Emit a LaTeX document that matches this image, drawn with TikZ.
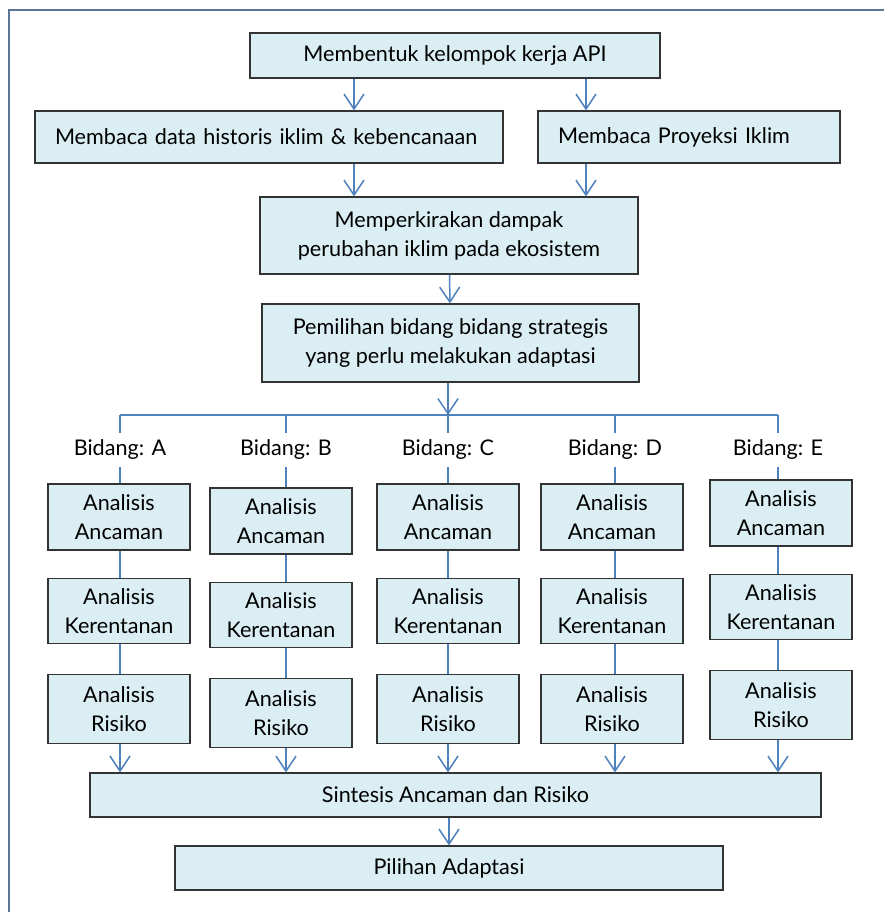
\documentclass[tikz,border=0pt]{standalone}
\usepackage{fontspec}
\setmainfont{Lato}
\usetikzlibrary{arrows.meta}

\definecolor{boxfill}{HTML}{DAEEF3}
\definecolor{linkblue}{HTML}{4F81BD}
\definecolor{framegray}{HTML}{5B7597}

\tikzset{
  boxfont/.style={font=\fontsize{21.6}{29}\selectfont},
  stepbox/.style={draw=black!80, line width=1.2pt, fill=boxfill, inner sep=0pt,
    align=center, boxfont},
  leftbox/.style={stepbox, align=left, inner xsep=20pt},
  link/.style={draw=linkblue, line width=1.5pt},
  arr/.style={link, -{Straight Barb[length=15pt,width=20pt,line width=1.5pt]}}
}

\begin{document}
\begin{tikzpicture}[x=1pt,y=-1pt]
\useasboundingbox (0,0) rectangle (884,912);
\draw[framegray, line width=2pt] (9,912) -- (9,10) -- (884,10);

% upper part
\node[stepbox, minimum width=410pt, minimum height=45pt] (kerja) at (455,55.5) {Membentuk kelompok kerja API};
\node[leftbox, text width=428pt, minimum height=52pt] (historis) at (269,137) {Membaca data historis iklim \& kebencanaan};
\node[leftbox, text width=262pt, minimum height=52pt] (proyeksi) at (689,137) {Membaca Proyeksi Iklim};
\node[stepbox, minimum width=378pt, minimum height=77pt] (dampak) at (449,235.5) {Memperkirakan dampak\\perubahan iklim pada ekosistem};
\node[stepbox, minimum width=377pt, minimum height=78pt] (pilih) at (450.5,343) {Pemilihan bidang bidang strategis\\yang perlu melakukan adaptasi};

\coordinate (xl) at (354,0);
\coordinate (xr) at (586,0);
\draw[arr] (kerja.south -| xl) -- (historis.north -| xl);
\draw[arr] (kerja.south -| xr) -- (proyeksi.north -| xr);
\draw[arr] (historis.south -| xl) -- (dampak.north -| xl);
\draw[arr] (proyeksi.south -| xr) -- (dampak.north -| xr);
\draw[arr] (dampak) -- (pilih);

% lower part
\node[stepbox, minimum width=731pt, minimum height=44pt] (sintesis) at (455.5,795) {Sintesis Ancaman dan Risiko};
\node[stepbox, minimum width=548pt, minimum height=44pt] (adaptasi) at (449,868) {Pilihan Adaptasi};
\draw[arr] (sintesis.south -| adaptasi) -- (adaptasi);

\foreach \col/\cx/\lx/\dy in {A/119/120/0, B/281/286/4, C/448/448/0, D/612/615/0, E/781/778/-4} {
  \coordinate (bus-\col) at (\lx,415);
  \node[boxfont, minimum height=34pt, inner sep=0pt] (bid-\col) at (\lx,450) {Bidang: \col};
  \node[stepbox, minimum width=142pt, minimum height=66pt] (anc-\col) at (\cx,517+\dy) {Analisis\\Ancaman};
  \node[stepbox, minimum width=142pt, minimum height=65pt] (ker-\col) at (\cx,611+\dy) {Analisis\\Kerentanan};
  \node[stepbox, minimum width=142pt, minimum height=69pt] (ris-\col) at (\cx,709+\dy) {Analisis\\Risiko};
  \draw[link] (bus-\col) -- (bid-\col.north);
  \draw[link] (bid-\col.south) -- (anc-\col.north -| bid-\col);
  \draw[link] (anc-\col.south -| bid-\col) -- (ker-\col.north -| bid-\col);
  \draw[link] (ker-\col.south -| bid-\col) -- (ris-\col.north -| bid-\col);
  \draw[arr] (ris-\col.south -| bid-\col) -- (sintesis.north -| bid-\col);
}
\draw[link] (bus-A) -- (bus-E);
\draw[arr] (pilih.south -| bus-C) -- (bus-C);
\end{tikzpicture}
\end{document}
